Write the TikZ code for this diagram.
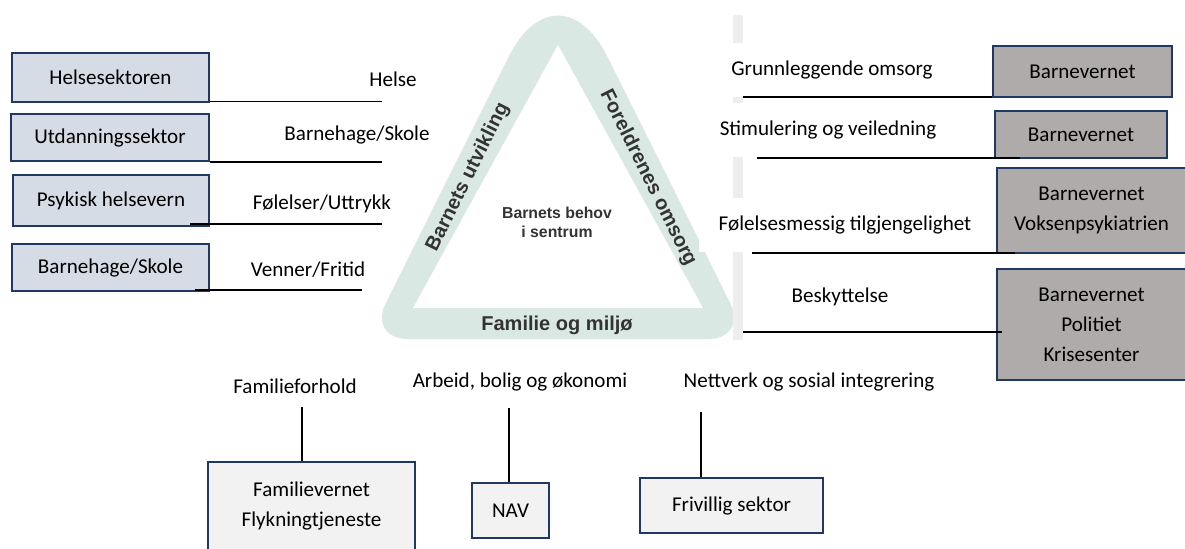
\documentclass[tikz,border=0pt]{standalone}
\usepackage{fontspec}
\setmainfont{Carlito}
\newfontfamily\trifont{Liberation Sans}
\usepackage{tikz}
\usetikzlibrary{positioning}
\definecolor{boxline}{HTML}{203864}
\definecolor{boxblue}{HTML}{D6DCE5}
\definecolor{boxgrey}{HTML}{AFABAB}
\definecolor{boxlight}{HTML}{F2F2F2}
\definecolor{bandteal}{HTML}{DAE8E4}
\definecolor{bargrey}{HTML}{EEEEEE}
\definecolor{tritext}{HTML}{333333}
\tikzstyle{lbox} = [rectangle, draw=boxline, fill=boxblue, line width=1.1pt, inner sep=0pt, align=center]
\tikzstyle{rbox} = [rectangle, draw=boxline, fill=boxgrey, line width=1.1pt, inner sep=0pt, align=center]
\tikzstyle{bbox} = [rectangle, draw=boxline, fill=boxlight, line width=1.1pt, inner sep=0pt, align=center]
\tikzstyle{tag} = [inner sep=0pt]
\tikzstyle{rtag} = [fill=white, inner xsep=0.4cm, inner ysep=0pt, minimum height=1.08cm]
\tikzstyle{side} = [text=tritext, inner sep=0pt, font=\trifont\bfseries\fontsize{11.4}{13}\selectfont]
\tikzstyle{line} = [draw, line width=1pt]

\begin{document}
\begin{tikzpicture}[x=0.02cm, y=-0.02cm, font=\fontsize{12}{17}\selectfont]
\useasboundingbox (0,0) rectangle (1185,548);

% Triangle
	\fill[bandteal] (431,212) [rounded corners=0.8cm] -- (368,339) -- (748,339) -- (685,212) [rounded corners=2.2cm] -- (558,-42) -- cycle;
	\fill[white] (558,45) -- (413,308) -- (703,308) -- cycle;
	\coordinate (bartop) at (738,15);
	\coordinate (barbot) at (738,340);
	\path [draw=bargrey, line width=0.2cm] (bartop) -- (barbot);

% Place nodes
	\node [lbox, minimum width=3.94cm, minimum height=0.98cm] (hs) at (110.5,77.5) {Helsesektoren};
	\node [lbox, minimum width=3.96cm, minimum height=0.94cm] (ut) at (110,137.5) {Utdanningssektor};
	\node [lbox, minimum width=3.92cm, minimum height=1.02cm] (ph) at (111,200.5) {Psykisk helsevern};
	\node [lbox, minimum width=3.94cm, minimum height=0.94cm] (bh) at (110.5,267.5) {Barnehage/Skole};

	\node [tag] (helse)  at (393,79)  {Helse};
	\node [tag] (skole)  at (357,135) {Barnehage/Skole};
	\node [tag] (foles)  at (322,204) {Følelser/Uttrykk};
	\node [tag] (venner) at (308,270) {Venner/Fritid};

	\node [rbox, minimum width=3.58cm, minimum height=1.02cm] (bv1) at (1082.5,71.5) {Barnevernet};
	\node [rbox, minimum width=3.44cm, minimum height=0.94cm] (bv2) at (1081,134.5) {Barnevernet};
	\node [rbox, minimum width=3.78cm, minimum height=1.7cm] (bv3) at (1091.5,210.5) {Barnevernet\\Voksenpsykiatrien};
	\node [rbox, minimum width=3.78cm, minimum height=2.22cm] (bv4) at (1091.5,324.5) {Barnevernet\\Politiet\\Krisesenter};

	\node [rtag] (omsorg) at (832,70)  {Grunnleggende omsorg};
	\node [rtag] (stim)   at (828,130) {Stimulering og veiledning};
	\node [rtag] (tilgj)  at (845,225) {Følelsesmessig tilgjengelighet};
	\node [rtag] (besk)   at (840,297) {Beskyttelse};

	\node [tag] (famf)   at (295,386) {Familieforhold};
	\node [tag] (arbeid) at (520,382) {Arbeid, bolig og økonomi};
	\node [tag] (nett)   at (809,382) {Nettverk og sosial integrering};
	\node [bbox, minimum width=4.14cm, minimum height=1.76cm] (fv) at (311.5,506) {Familievernet\\Flykningtjeneste};
	\node [bbox, minimum width=1.54cm, minimum height=1.1cm] (nav) at (510.5,510.5) {NAV};
	\node [bbox, minimum width=3.66cm, minimum height=1.1cm] (fs) at (731.5,505.5) {Frivillig sektor};

	\node [side, rotate=63.5]  (utv) at (468,177) {Barnets utvikling};
	\node [side, rotate=-63.5] (for) at (648,178) {Foreldrenes omsorg};
	\node [side] (fam) at (557,325) {Familie og miljø};
	\node [side, align=center, font=\trifont\bfseries\fontsize{9}{10.8}\selectfont] (mid) at (557,222) {Barnets behov\\i sentrum};

% Line ends
	\coordinate (helseend)  at (382,101.5);
	\coordinate (skoleend)  at (382,162);
	\coordinate (folesbeg)  at (190,224);
	\coordinate (folesend)  at (382,224);
	\coordinate (vennerbeg) at (195,290);
	\coordinate (vennerend) at (362,290);
	\coordinate (omsorgbeg) at (743,97);
	\coordinate (stimbeg)   at (757,158);
	\coordinate (stimend)   at (1020,158);
	\coordinate (tilgjbeg)  at (752,253);
	\coordinate (tilgjend)  at (1015,253);
	\coordinate (beskbeg)   at (743,332);
	\coordinate (beskend)   at (1002,332);
	\coordinate (famftop)   at (302,407);
	\coordinate (arbeidtop) at (509,408);
	\coordinate (netttop)   at (701,412);

% Draw edges
	\path [line] (helseend -| hs.east) -- (helseend);
	\path [line] (skoleend -| ut.east) -- (skoleend);
	\path [line] (folesbeg) -- (folesend);
	\path [line] (vennerbeg) -- (vennerend);
	\path [line] (omsorgbeg) -- (omsorgbeg -| bv1.west);
	\path [line] (stimbeg) -- (stimend);
	\path [line] (tilgjbeg) -- (tilgjend);
	\path [line] (beskbeg) -- (beskend);
	\path [line] (famftop) -- (famftop |- fv.north);
	\path [line] (arbeidtop) -- (arbeidtop |- nav.north);
	\path [line] (netttop) -- (netttop |- fs.north);

\end{tikzpicture}
\end{document}
